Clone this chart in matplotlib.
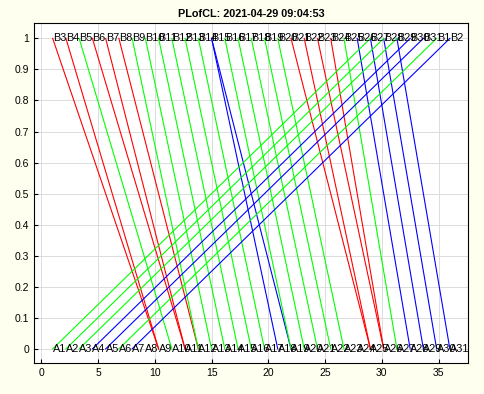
import numpy as np
import matplotlib
matplotlib.use("Agg")
import matplotlib.pyplot as plt

plt.rcParams['font.family'] = ['Liberation Sans', 'DejaVu Sans']

# 31 point positions shared by the A row (y=0) and the B row (y=1)
xpos = np.linspace(1, 36, 31)
a_names = ["A%d" % i for i in range(1, 32)]
b_names = ["B%d" % i for i in list(range(3, 32)) + [1, 2]]

# connections: slot at top -> slot at bottom (1-based), colour
top_slot = [1, 2, 3, 4, 5, 6,
            7, 8, 9, 10, 11, 12,
            13, 13,
            14, 15, 16, 17, 18,
            19, 20, 21, 22,
            23,
            24, 25, 26, 27,
            25, 26, 27, 28, 29, 30, 31]
bot_slot = [9, 9, 10, 11, 11, 12,
            12, 13, 14, 15, 16, 17,
            18, 19,
            19, 20, 21, 22, 23,
            25, 25, 26, 26,
            27,
            28, 29, 30, 31,
            1, 2, 3, 4, 5, 6, 7]
colors = ['r', 'r', 'g', 'r', 'r', 'r',
          'g', 'g', 'g', 'g', 'g', 'g',
          'b', 'b',
          'g', 'g', 'g', 'g', 'g',
          'r', 'r', 'r', 'r',
          'g',
          'b', 'b', 'b', 'b',
          'g', 'g', 'g', 'b', 'b', 'g', 'b']
cmap = {'r': '#ff0000', 'g': '#00ff00', 'b': '#0000ff'}

fig = plt.figure(figsize=(4.85, 3.94), dpi=100, facecolor='#fffff0')
ax = fig.add_axes([0.070, 0.079, 0.895, 0.863])

for t, b, c in zip(top_slot, bot_slot, colors):
    ax.plot([xpos[b - 1], xpos[t - 1]], [0, 1], color=cmap[c], lw=0.8)

for x, s in zip(xpos, a_names):
    ax.text(x, 0, s, fontsize=7.8, va='center', ha='left')
for x, s in zip(xpos, b_names):
    ax.text(x, 1, s, fontsize=7.8, va='center', ha='left')

ax.set_xlim(-0.65, 37.6)
ax.set_ylim(-0.045, 1.05)
ax.set_xticks(range(0, 36, 5))
ax.set_yticks(np.round(np.arange(0, 1.01, 0.1), 1))
ax.set_yticklabels(['0', '0.1', '0.2', '0.3', '0.4', '0.5', '0.6', '0.7', '0.8', '0.9', '1'])
ax.tick_params(direction='in', labelsize=7.5, length=3)
ax.grid(True, color='#dcdcdc', lw=0.7)
ax.set_axisbelow(True)
ax.set_title('PLofCL: 2021-04-29 09:04:53', fontsize=7.8, fontweight='bold', pad=4)

fig.savefig('out.png', dpi=100, facecolor=fig.get_facecolor())
